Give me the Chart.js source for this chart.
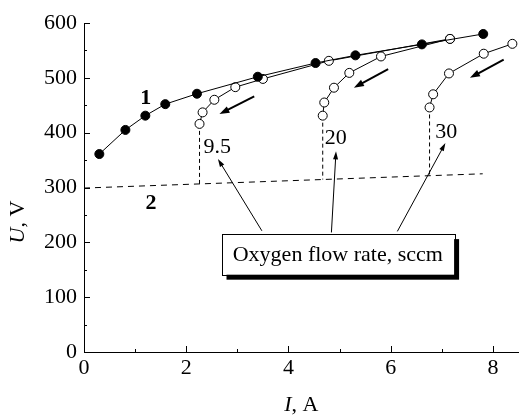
<!DOCTYPE html>
<html>
<head>
<meta charset="utf-8">
<script src="https://cdn.jsdelivr.net/npm/chart.js@4"></script>
<style>
  body { margin: 0; background: #fff; overflow: hidden; }
</style>
</head>
<body>
<canvas id="myChart" width="524" height="415"></canvas>
<script>
// curve 1 (filled circles)
const curve1I = [0.30, 0.81, 1.20, 1.59, 2.21, 3.40, 4.53, 5.31, 6.61, 7.81];
const curve1U = [361, 405, 431, 452, 471, 502, 527, 541, 561, 580];
// open curves, oxygen flow rate 9.5 / 20 / 30 sccm
const flow95I = [7.16, 4.79, 3.50, 2.96, 2.55, 2.32, 2.26];
const flow95U = [571, 531, 498, 483, 460, 437, 416];
const flow20I = [7.16, 5.81, 5.19, 4.89, 4.70, 4.67];
const flow20U = [571, 539, 509, 482, 455, 431];
const flow30I = [8.38, 7.82, 7.14, 6.83, 6.76];
const flow30U = [562, 544, 508, 470, 446];
// curve 2 (dashed)
const line2I = [0, 7.8];
const line2U = [299, 325];
// drops from each curve's end down to curve 2
const dropI = [2.26, 4.67, 6.76];
const dropTop = [416, 431, 446];
const dropBottom = [306.5, 314.6, 322];
const flowLabels = ['9.5', '20', '30'];

const FONT = '"Liberation Serif", "Times New Roman", serif';

function pts(xs, ys) {
    return xs.map(function(x, i) { return {x: x, y: ys[i]}; });
}

function arrow(ctx, x1, y1, x2, y2, len, half) {
    const a = Math.atan2(y2 - y1, x2 - x1);
    ctx.beginPath();
    ctx.moveTo(x1, y1);
    ctx.lineTo(x2 - Math.cos(a) * len * 0.8, y2 - Math.sin(a) * len * 0.8);
    ctx.stroke();
    ctx.beginPath();
    ctx.moveTo(x2, y2);
    ctx.lineTo(x2 - Math.cos(a) * len - Math.sin(a) * half, y2 - Math.sin(a) * len + Math.cos(a) * half);
    ctx.lineTo(x2 - Math.cos(a) * len + Math.sin(a) * half, y2 - Math.sin(a) * len - Math.cos(a) * half);
    ctx.closePath();
    ctx.fill();
}

const extras = {
    id: 'extras',
    afterDraw: function(chart) {
        const ctx = chart.ctx;
        const xs = chart.scales.x, ys = chart.scales.y;
        const X = function(v) { return xs.getPixelForValue(v); };
        const Y = function(v) { return ys.getPixelForValue(v); };
        const area = chart.chartArea;
        ctx.save();
        ctx.strokeStyle = '#000';
        ctx.fillStyle = '#000';
        ctx.lineWidth = 1;

        // inward tick marks
        ctx.beginPath();
        for (let v = 0; v <= 8; v++) {
            const len = v % 2 === 0 ? 6 : 3;
            const px = Math.round(X(v)) + 0.5;
            ctx.moveTo(px, area.bottom);
            ctx.lineTo(px, area.bottom - len);
        }
        for (let v = 0; v <= 600; v += 50) {
            const len = v % 100 === 0 ? 6 : 3;
            const py = Math.round(Y(v)) + 0.5;
            ctx.moveTo(area.left, py);
            ctx.lineTo(area.left + len, py);
        }
        ctx.stroke();

        // curve numbers
        ctx.font = 'bold 22px ' + FONT;
        ctx.textAlign = 'center';
        ctx.textBaseline = 'middle';
        ctx.fillText('1', X(1.21), Y(463));
        ctx.fillText('2', X(1.31), Y(272));

        // flow rate labels
        ctx.font = '22px ' + FONT;
        ctx.textAlign = 'left';
        ctx.fillText(flowLabels[0], X(2.34), Y(373));
        ctx.fillText(flowLabels[1], X(4.71), Y(389));
        ctx.fillText(flowLabels[2], X(6.87), Y(401));

        // direction arrows
        ctx.lineWidth = 2;
        arrow(ctx, X(3.33), Y(466), X(2.65), Y(434), 10, 3.5);
        arrow(ctx, X(5.95), Y(516), X(5.28), Y(482), 10, 3.5);
        arrow(ctx, X(8.21), Y(533), X(7.55), Y(500), 10, 3.5);

        // annotation arrows
        ctx.lineWidth = 1;
        arrow(ctx, X(3.48), Y(221), X(2.62), Y(352), 8, 2.5);
        arrow(ctx, X(4.84), Y(218), X(4.93), Y(366), 8, 2.5);
        arrow(ctx, X(6.13), Y(220), X(7.07), Y(381), 8, 2.5);

        // annotation box with shadow
        const bx = X(2.69), by = Y(215), bw = X(7.24) - X(2.69), bh = Y(141) - Y(215);
        ctx.fillRect(bx + 5, by + 5, bw, bh);
        ctx.fillStyle = '#fff';
        ctx.fillRect(bx, by, bw, bh);
        ctx.strokeRect(Math.round(bx) + 0.5, Math.round(by) + 0.5, Math.round(bw), Math.round(bh));
        ctx.fillStyle = '#000';
        ctx.font = '22px ' + FONT;
        ctx.textAlign = 'center';
        ctx.fillText('Oxygen flow rate, sccm', bx + bw / 2, by + bh / 2 + 1);

        // axis titles with italic symbols
        function mixed(parts, cx, cy) {
            let w = 0;
            parts.forEach(function(p) { ctx.font = p[1] + ' 22px ' + FONT; w += ctx.measureText(p[0]).width; });
            let x = cx - w / 2;
            ctx.textAlign = 'left';
            parts.forEach(function(p) {
                ctx.font = p[1] + ' 22px ' + FONT;
                ctx.fillText(p[0], x, cy);
                x += ctx.measureText(p[0]).width;
            });
        }
        mixed([['I', 'italic'], [', A', 'normal']], (area.left + area.right) / 2, 405);
        ctx.translate(18, 222);
        ctx.rotate(-Math.PI / 2);
        mixed([['U', 'italic'], [', V', 'normal']], 0, 0);
        ctx.restore();
    }
};

function dropSet(i) {
    return {
        data: [{x: dropI[i], y: dropTop[i]}, {x: dropI[i], y: dropBottom[i]}],
        showLine: true, borderColor: '#000', borderWidth: 1, borderDash: [4, 3],
        pointRadius: 0
    };
}

function openSet(xs, ys) {
    return {
        data: pts(xs, ys), showLine: true, borderColor: '#000', borderWidth: 1,
        pointRadius: 4.5, pointBackgroundColor: '#fff', pointBorderColor: '#000', pointBorderWidth: 1
    };
}

document.addEventListener('DOMContentLoaded', function() {
    const ctx = document.getElementById('myChart');
    new Chart(ctx, {
        type: 'scatter',
        data: {
            datasets: [
                {
                    data: pts(curve1I, curve1U), showLine: true, borderColor: '#000', borderWidth: 1,
                    pointRadius: 4.5, pointBackgroundColor: '#000', pointBorderColor: '#000'
                },
                openSet(flow95I, flow95U),
                openSet(flow20I, flow20U),
                openSet(flow30I, flow30U),
                {
                    data: pts(line2I, line2U), showLine: true, borderColor: '#000', borderWidth: 1,
                    borderDash: [6, 5], pointRadius: 0
                },
                dropSet(0), dropSet(1), dropSet(2)
            ]
        },
        options: {
            responsive: false,
            devicePixelRatio: 1,
            animation: false,
            layout: { padding: { top: 23, right: 1, left: 0, bottom: 0 } },
            plugins: { legend: { display: false }, tooltip: { enabled: false } },
            scales: {
                x: {
                    type: 'linear', min: 0, max: 8.5,
                    ticks: { stepSize: 2, includeBounds: false, color: '#000', padding: 3,
                             font: { family: FONT, size: 22 } },
                    grid: { drawOnChartArea: false, drawTicks: false },
                    border: { color: '#000', width: 1 },
                    afterFit: function(s) { s.height = 63; }
                },
                y: {
                    min: 0, max: 600,
                    ticks: { stepSize: 100, color: '#000', padding: 7,
                             font: { family: FONT, size: 22 } },
                    grid: { drawOnChartArea: false, drawTicks: false },
                    border: { color: '#000', width: 1 },
                    afterFit: function(s) { s.width = 84; }
                }
            }
        },
        plugins: [extras]
    });
});
</script>
</body>
</html>
